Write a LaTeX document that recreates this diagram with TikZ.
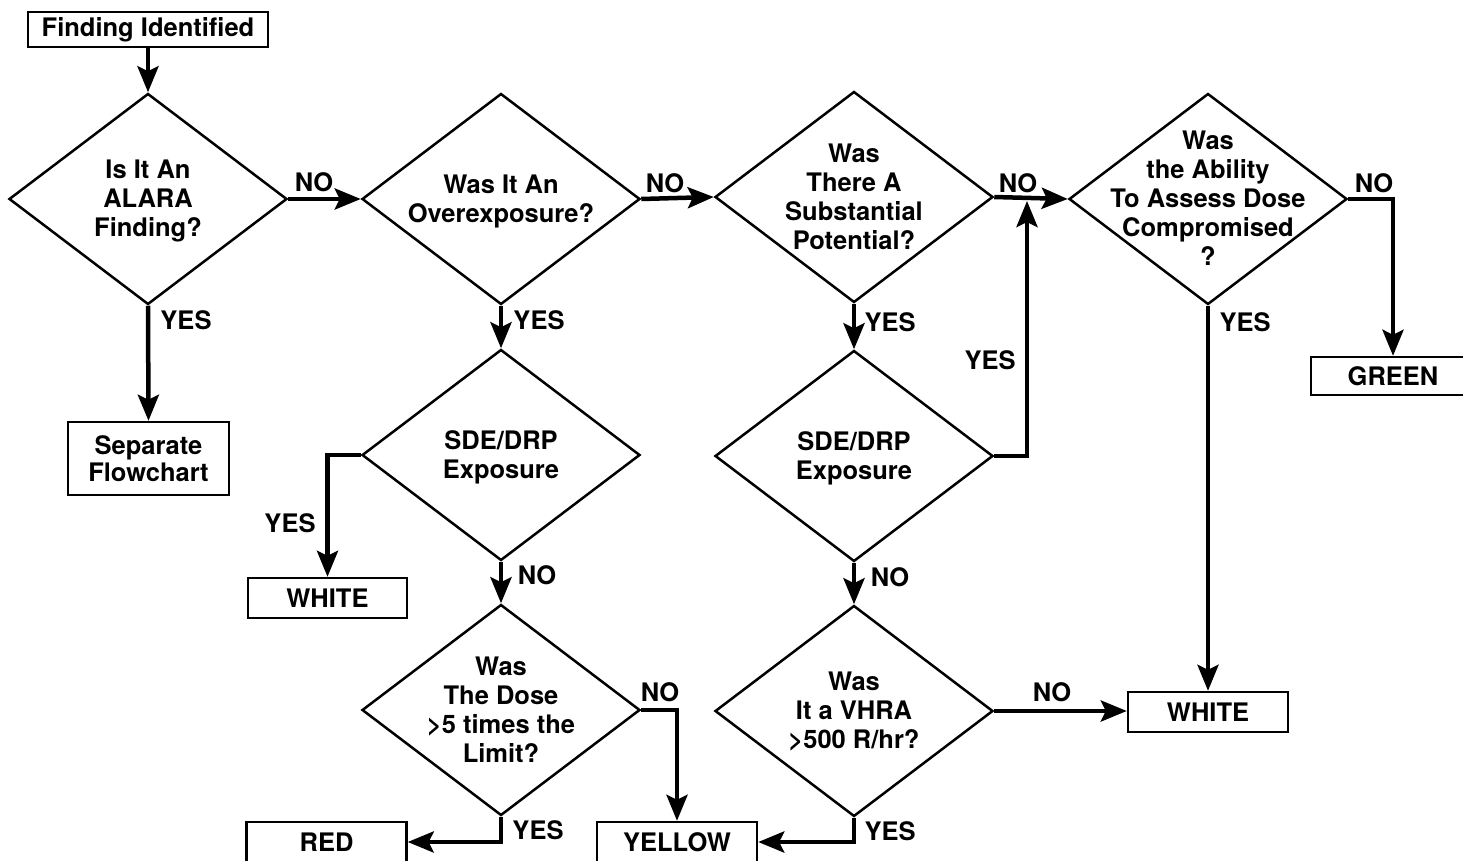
\documentclass[tikz,border=0pt]{standalone}
\usepackage{fontspec}
\setmainfont{TeX Gyre Heros}
\usetikzlibrary{shapes.geometric,arrows.meta}
\newcommand\dtxt[1]{\smash{\makebox[0pt]{\raisebox{-9pt}{\begin{tabular}{@{}c@{}}#1\end{tabular}}}}}
\begin{document}
\begin{tikzpicture}[x=1pt,y=-1pt,
  every node/.style={font=\fontsize{25.5}{29}\selectfont\bfseries},
  dia/.style={diamond,draw,line width=2.5pt,minimum width=278pt,minimum height=211pt,inner sep=0pt},
  bx/.style={draw,line width=2.4pt,rectangle,inner sep=0pt,align=center},
  lbl/.style={inner sep=0pt},
  conn/.style={line width=4.5pt,-{Stealth[length=26pt,width=21pt,inset=5pt]}},
  plain/.style={line width=4.5pt}]
\useasboundingbox (0,0) rectangle (1463,861);
% boxes
\node[bx,minimum width=240pt,minimum height=35pt] (fi) at (148,29.5) {Finding Identified};
\node[bx,minimum width=161pt,minimum height=73pt] (sep) at (148.5,458.5) {Separate\\[-2pt]Flowchart};
\node[bx,minimum width=159pt,minimum height=40pt] (w1) at (327.5,598) {WHITE};
\node[bx,minimum width=160pt,minimum height=40pt] (red) at (326.5,842) {RED};
\node[bx,minimum width=160pt,minimum height=40pt] (yel) at (677,842) {YELLOW};
\node[bx,minimum width=160pt,minimum height=40pt] (w2) at (1208,712) {WHITE};
\node[bx,minimum width=164pt,minimum height=38pt] (gr) at (1393,376) {GREEN};
% diamonds
\node[dia] (d1) at (148,199) {\dtxt{Is It An\\ALARA\\Finding?}};
\node[dia] (d2) at (501,199) {\dtxt{Was It An\\Overexposure?}};
\node[dia] (d3) at (501,455) {\dtxt{SDE/DRP\\Exposure}};
\node[dia] (d4) at (501,710) {\dtxt{Was\\The Dose\\>5 times the\\Limit?}};
\node[dia] (d5) at (854,197) {\dtxt{Was\\There A\\Substantial\\Potential?}};
\node[dia] (d6) at (854,456) {\dtxt{SDE/DRP\\Exposure}};
\node[dia] (d7) at (854,711) {\dtxt{Was\\It a VHRA\\>500 R/hr?}};
\node[dia] (d8) at (1208,199) {\dtxt{Was\\the Ability\\To Assess Dose\\Compromised\\?}};
\coordinate (j) at (1027,201);
% connectors
\draw[conn] (fi.south) -- (d1.north);
\draw[conn] (d1.east) -- (d2.west);
\draw[conn] (d1.south) -- (sep.north);
\draw[conn] (d2.east) -- (d5.west);
\draw[conn] (d2.south) -- (d3.north);
\draw[conn] (d3.west) -| (w1.north);
\draw[conn] (d3.south) -- (d4.north);
\draw[conn] (d4.east) -| (yel.north);
\draw[conn] (d4.south) |- (red.east);
\draw[conn] (d5.east) -- (d8.west);
\draw[conn] (d5.south) -- (d6.north);
\draw[conn] (d6.east) -| (j);
\draw[conn] (d6.south) -- (d7.north);
\draw[conn] (d7.east) -- (d7.east -| w2.west);
\draw[conn] (d7.south) |- (yel.east);
\draw[conn] (d8.east) -| (gr.north);
\draw[conn] (d8.south) -- (w2.north);
% labels
\node[lbl] (l1) at (314,182) {NO};
\node[lbl] (l2) at (186,320) {YES};
\node[lbl] (l3) at (665,183) {NO};
\node[lbl] (l4) at (539,320) {YES};
\node[lbl] (l5) at (290,523) {YES};
\node[lbl] (l6) at (537,575) {NO};
\node[lbl] (l7) at (660,692) {NO};
\node[lbl] (l8) at (538,830) {YES};
\node[lbl] (l9) at (1018,183) {NO};
\node[lbl] (l10) at (890,322) {YES};
\node[lbl] (l11) at (990,360) {YES};
\node[lbl] (l12) at (890,577) {NO};
\node[lbl] (l13) at (1052,692) {NO};
\node[lbl] (l14) at (890,831) {YES};
\node[lbl] (l15) at (1374,183) {NO};
\node[lbl] (l16) at (1245,322) {YES};
\end{tikzpicture}
\end{document}
